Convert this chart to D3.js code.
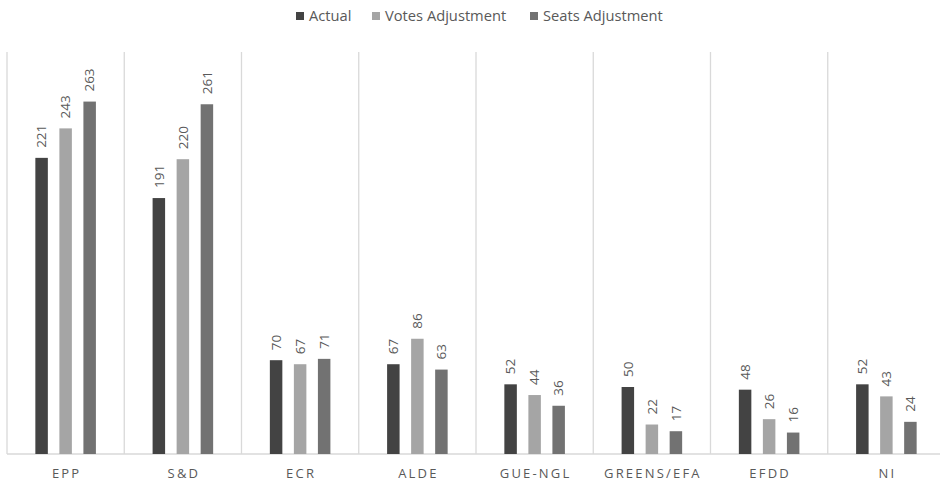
<!DOCTYPE html>
<html>
<head>
<meta charset="utf-8">
<script src="https://cdn.jsdelivr.net/npm/d3@7"></script>
<style>
  body { margin: 0; background: #fff; }
  svg { display: block; font-family: "Open Sans", "Noto Sans", sans-serif; }
</style>
</head>
<body>
<div id="chart"></div>
<script>
// party groups and the three seat counts
const groups = ['EPP', 'S&D', 'ECR', 'ALDE', 'GUE-NGL', 'GREENS/EFA', 'EFDD', 'NI'];
const seriesNames = ['Actual', 'Votes Adjustment', 'Seats Adjustment'];
const actual = [221, 191, 70, 67, 52, 50, 48, 52];
const votesAdj = [243, 220, 67, 86, 44, 22, 26, 43];
const seatsAdj = [263, 261, 71, 63, 36, 17, 16, 24];
const colors = ['#434343', '#a5a5a5', '#727272'];

const width = 940, height = 481;
const plotTop = 52, plotBottom = 454, plotLeft = 7;
const groupW = 117.25;

const svg = d3.select('#chart').append('svg')
  .attr('width', width)
  .attr('height', height);

const x = d3.scaleBand()
  .domain(groups)
  .range([plotLeft, plotLeft + groupW * groups.length]);

const xInner = d3.scaleBand()
  .domain(seriesNames)
  .range([0, groupW])
  .paddingInner(0.48)
  .paddingOuter(1.18);

const y = d3.scaleLinear()
  .domain([0, 300])
  .range([plotBottom, plotTop]);

// group dividers
svg.append('g')
  .selectAll('line')
  .data(d3.range(groups.length + 1))
  .join('line')
  .attr('x1', i => plotLeft + i * groupW)
  .attr('x2', i => plotLeft + i * groupW)
  .attr('y1', plotTop)
  .attr('y2', plotBottom)
  .attr('stroke', '#d9d9d9')
  .attr('stroke-width', 1.3);

// baseline
svg.append('line')
  .attr('x1', plotLeft)
  .attr('x2', width)
  .attr('y1', y(0))
  .attr('y2', y(0))
  .attr('stroke', '#d9d9d9')
  .attr('stroke-width', 1.3);

const rows = groups.map((g, i) => ({
  group: g,
  values: [actual[i], votesAdj[i], seatsAdj[i]]
}));

const g = svg.append('g')
  .selectAll('g')
  .data(rows)
  .join('g')
  .attr('transform', d => `translate(${x(d.group)},0)`);

g.selectAll('rect')
  .data(d => d.values.map((v, k) => ({ key: seriesNames[k], v, k })))
  .join('rect')
  .attr('x', d => xInner(d.key))
  .attr('width', xInner.bandwidth())
  .attr('y', d => y(d.v))
  .attr('height', d => y(0) - y(d.v))
  .attr('fill', d => colors[d.k]);

// rotated value labels
g.selectAll('text')
  .data(d => d.values.map((v, k) => ({ key: seriesNames[k], v, k })))
  .join('text')
  .attr('transform', d => `translate(${xInner(d.key) + xInner.bandwidth() / 2},${y(d.v) - 10}) rotate(-90)`)
  .attr('dy', '0.35em')
  .attr('font-size', 13.5)
  .attr('fill', '#595959')
  .text(d => d.v);

// category labels
svg.append('g')
  .selectAll('text')
  .data(groups)
  .join('text')
  .attr('x', d => x(d) + x.bandwidth() / 2 + 1)
  .attr('y', 478)
  .attr('text-anchor', 'middle')
  .attr('font-size', 13)
  .attr('letter-spacing', '2.2px')
  .attr('fill', '#595959')
  .text(d => d);

// legend
const legendX = [296, 372, 530];
const legend = svg.append('g')
  .selectAll('g')
  .data(seriesNames)
  .join('g')
  .attr('transform', (d, i) => `translate(${legendX[i]},0)`);

legend.append('rect')
  .attr('x', 0)
  .attr('y', 12)
  .attr('width', 8)
  .attr('height', 8)
  .attr('fill', (d, i) => colors[i]);

legend.append('text')
  .attr('x', 13)
  .attr('y', 21)
  .attr('font-size', 14.7)
  .attr('fill', '#595959')
  .text(d => d);
</script>
</body>
</html>
